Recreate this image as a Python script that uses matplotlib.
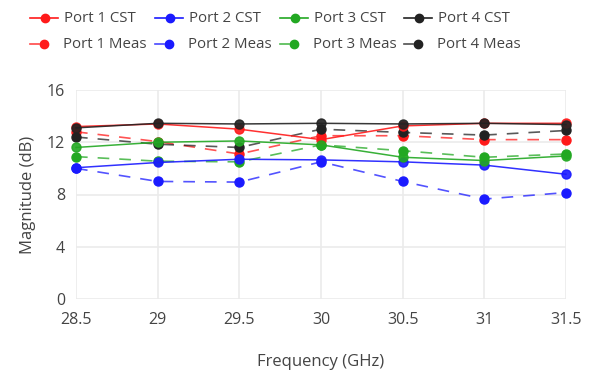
import matplotlib
matplotlib.use("Agg")
import matplotlib.pyplot as plt
from matplotlib.lines import Line2D

plt.rcParams['font.family'] = ['Open Sans', 'DejaVu Sans']

freq = [28.5, 29, 29.5, 30, 30.5, 31, 31.5]
freq_ticks = ["28.5", "29", "29.5", "30", "30.5", "31", "31.5"]
mag_ticks = [0, 4, 8, 12, 16]

port1_cst = [13.2, 13.4, 13.0, 12.2, 13.25, 13.45, 13.45]
port2_cst = [10.05, 10.45, 10.7, 10.65, 10.5, 10.25, 9.55]
port3_cst = [11.6, 12.0, 12.1, 11.8, 10.85, 10.6, 10.95]
port4_cst = [13.1, 13.45, 13.4, 13.45, 13.4, 13.45, 13.35]

port1_meas = [12.8, 12.05, 11.1, 12.5, 12.5, 12.2, 12.2]
port2_meas = [10.0, 9.0, 8.95, 10.5, 9.0, 7.65, 8.15]
port3_meas = [10.9, 10.55, 10.5, 11.8, 11.35, 10.85, 11.1]
port4_meas = [12.4, 11.85, 11.6, 13.0, 12.75, 12.55, 12.9]

colors = ["#ff1a1a", "#1a1aff", "#22a822", "#222222"]
cst = [port1_cst, port2_cst, port3_cst, port4_cst]
meas = [port1_meas, port2_meas, port3_meas, port4_meas]

W, H = 605, 374
fig = plt.figure(figsize=(W / 100, H / 100), dpi=100)
ax = fig.add_axes([76 / W, 1 - 299 / H, (566 - 76) / W, (299 - 90) / H])

text_color = "#444444"
grid_color = "#ebebeb"

for i in range(4):
    ax.plot(freq, meas[i], color=colors[i], lw=1.2, ls=(0, (7, 6)), alpha=0.75,
            zorder=2, clip_on=False)
    ax.plot(freq, meas[i], ls="none", marker="o", ms=6.5, color=colors[i],
            zorder=3, clip_on=False)
for i in range(4):
    ax.plot(freq, cst[i], color=colors[i], lw=1.1, marker="o", ms=6.5,
            zorder=4, clip_on=False, alpha=0.9)

ax.set_xlim(28.5, 31.5)
ax.set_ylim(0, 16)
ax.set_xticks(freq)
ax.set_xticklabels(freq_ticks)
ax.set_yticks(mag_ticks)
ax.set_yticklabels([str(v) for v in mag_ticks])
for s in ax.spines.values():
    s.set_visible(False)
ax.grid(True, color=grid_color, lw=1.2, zorder=0)
ax.set_axisbelow(True)
ax.tick_params(length=0, labelsize=11.5, colors=text_color)
ax.tick_params(axis='y', pad=8)
ax.tick_params(axis='x', pad=9)
ax.set_xlabel("Frequency (GHz)", fontsize=12, color=text_color, labelpad=19)
ax.set_ylabel("Magnitude (dB)", fontsize=12, color=text_color, labelpad=8)

# legend: CST on first row, Meas on second row
labels_cst = ["Port 1 CST", "Port 2 CST", "Port 3 CST", "Port 4 CST"]
labels_meas = ["Port 1 Meas", "Port 2 Meas", "Port 3 Meas", "Port 4 Meas"]
col_x = [30, 155, 280, 404]
for i in range(4):
    x0 = col_x[i]
    y1 = 18
    fig.add_artist(Line2D([x0 / W, (x0 + 28) / W], [1 - y1 / H, 1 - y1 / H],
                          color=colors[i], lw=1.2, transform=fig.transFigure))
    fig.add_artist(Line2D([(x0 + 15) / W], [1 - y1 / H], marker="o", ms=6,
                          color=colors[i], transform=fig.transFigure))
    fig.text((x0 + 34) / W, 1 - y1 / H, labels_cst[i], fontsize=10.8,
             color=text_color, va="center", ha="left")
    y2 = 44
    fig.add_artist(Line2D([x0 / W, (x0 + 9) / W], [1 - y2 / H, 1 - y2 / H],
                          color=colors[i], lw=1.2, alpha=0.8, transform=fig.transFigure))
    fig.add_artist(Line2D([(x0 + 14) / W], [1 - y2 / H], marker="o", ms=6,
                          color=colors[i], transform=fig.transFigure))
    fig.text((x0 + 33) / W, 1 - y2 / H, labels_meas[i], fontsize=10.8,
             color=text_color, va="center", ha="left")

fig.savefig("out.png", dpi=100, facecolor="white")
